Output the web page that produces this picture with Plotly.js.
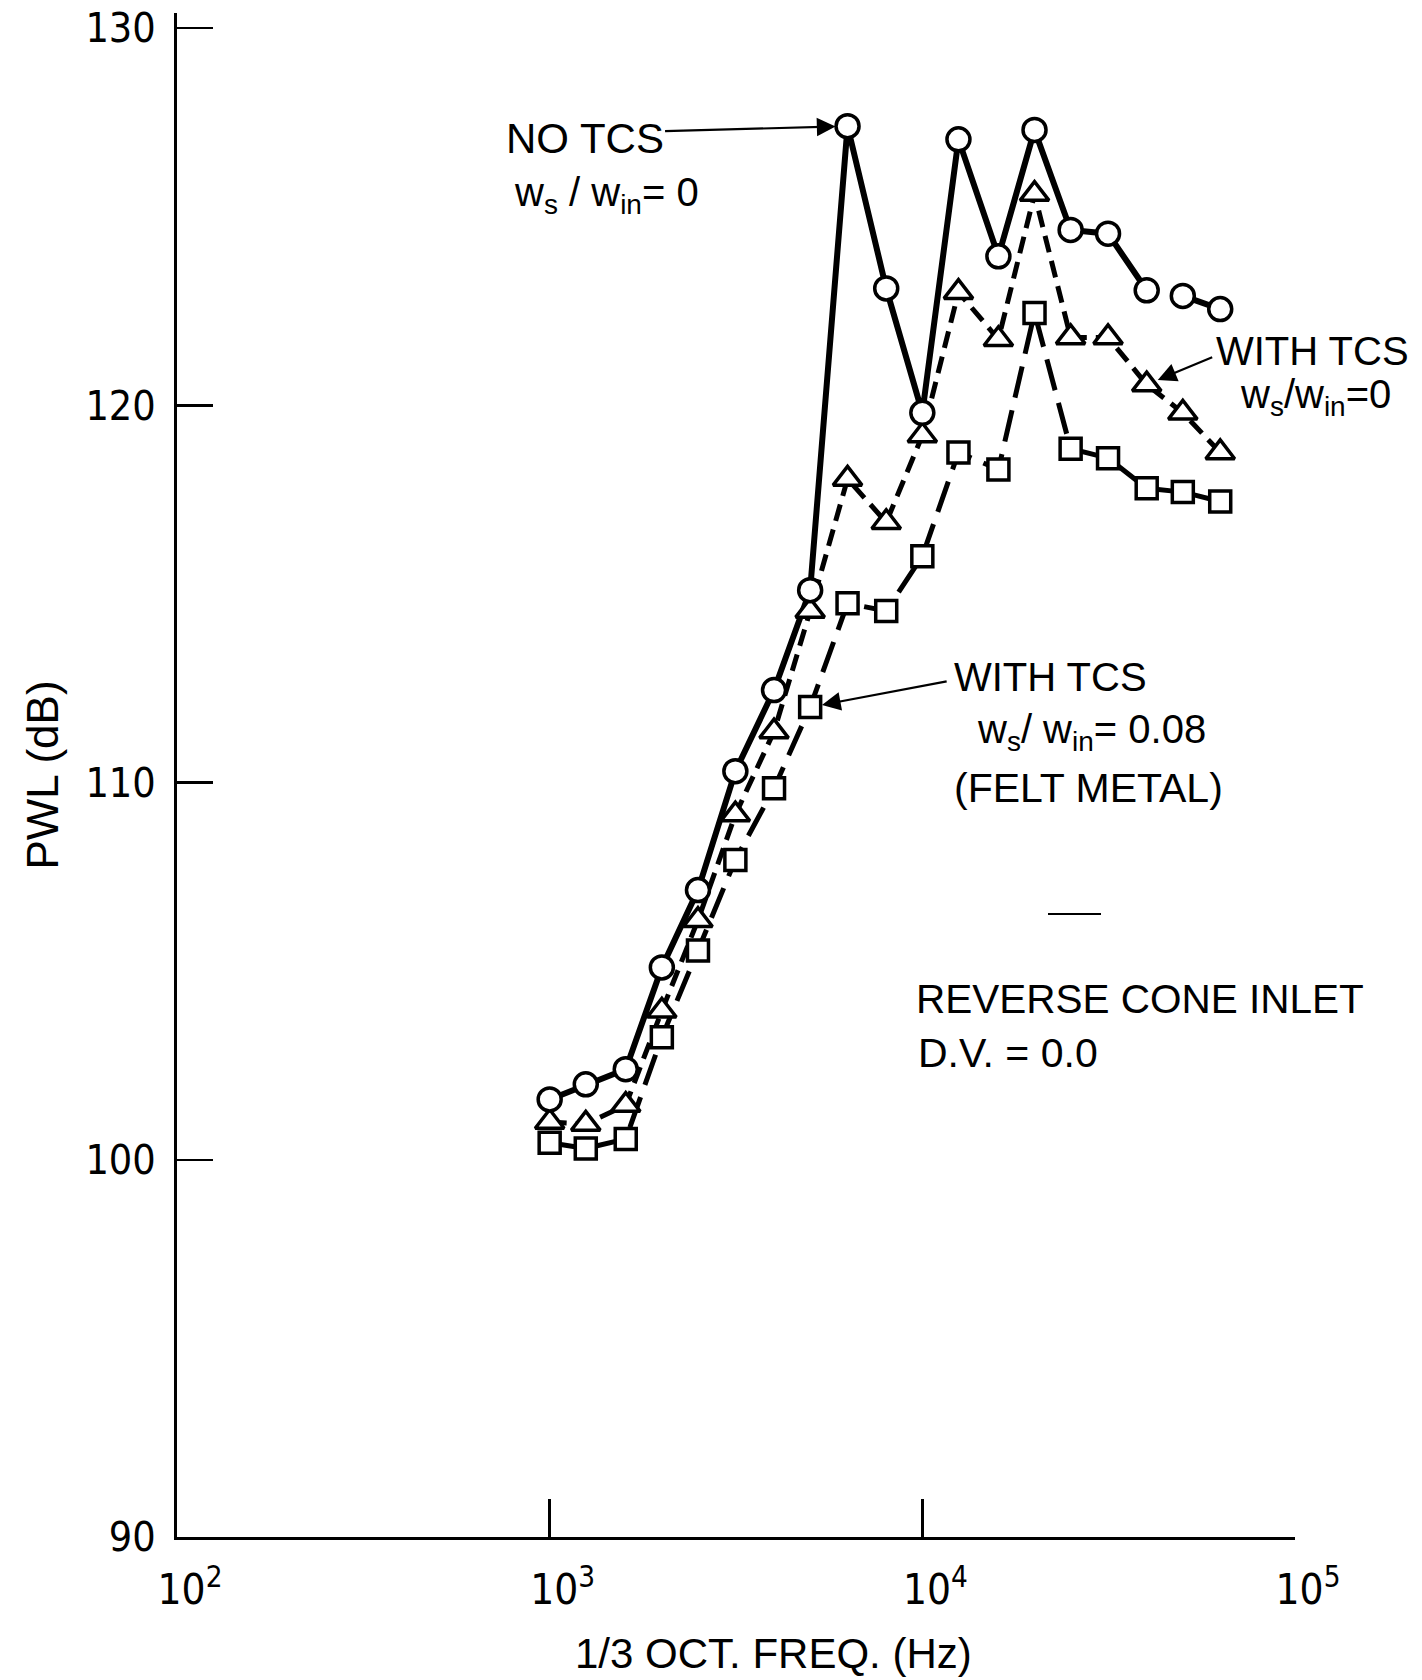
<!DOCTYPE html>
<html>
<head>
<meta charset="utf-8">
<script src="https://cdn.plot.ly/plotly-3.0.1.min.js"></script>
<style>html,body{margin:0;padding:0;background:#fff;}#chart{width:1422px;height:1680px;}</style>
</head>
<body>
<div id="chart"></div>
<script>
// 1/3-octave band centre frequencies (Hz)
const freq = [1000,1250,1600,2000,2500,3150,4000,5000,6300,8000,10000,12500,16000,20000,25000,31500,40000,50000,63000];
// PWL (dB) — NO TCS, ws/win = 0 (circles, solid)
const noTcs = [101.6,102.0,102.4,105.1,107.15,110.3,112.45,115.1,127.4,123.1,119.8,127.05,123.95,127.3,124.65,124.55,123.05,122.9,122.55];
// PWL (dB) — WITH TCS, ws/win = 0 (triangles, short dash)
const withTcs0 = [101.0,100.95,101.45,103.95,106.35,109.15,111.35,114.55,118.05,116.9,119.2,123.0,121.75,125.6,121.8,121.8,120.55,119.8,118.75];
// PWL (dB) — WITH TCS, ws/win = 0.08 felt metal (squares, long dash)
const withTcs08 = [100.45,100.3,100.55,103.25,105.55,107.95,109.85,112.0,114.75,114.55,116.0,118.75,118.3,122.45,118.85,118.6,117.8,117.7,117.45];
// the solid curve is not drawn between these two bands
const noTcsBreakAfter = 40000;

const xTickVals = [100,1000,10000,100000];
const xTickText = ['10<sup>2</sup>','10<sup>3</sup>','10<sup>4</sup>','10<sup>5</sup>'];
const yTickVals = [90,100,110,120,130];

const TXT = 'Liberation Sans, Arial, Helvetica, sans-serif';
const NUM = 'Liberation Sans Narrow, DejaVu Sans Condensed, Arial Narrow, Liberation Sans, sans-serif';

// build solid line with a gap
const gx = [], gy = [];
freq.forEach((f,i)=>{ gx.push(f); gy.push(noTcs[i]); if(f===noTcsBreakAfter){ gx.push(null); gy.push(null);} });

const traces = [
  {x: freq, y: withTcs08, mode:'lines', line:{color:'#000', width:5, dash:'32px,13px'}, hoverinfo:'skip', showlegend:false},
  {x: freq, y: withTcs0, mode:'lines', line:{color:'#000', width:5, dash:'17px,9px'}, hoverinfo:'skip', showlegend:false},
  {x: gx, y: gy, mode:'lines', connectgaps:false, line:{color:'#000', width:6}, hoverinfo:'skip', showlegend:false},
  {x: freq, y: withTcs08, mode:'markers', name:'WITH TCS ws/win=0.08',
   marker:{symbol:'square', size:21, color:'#fff', line:{color:'#000', width:3.5}}, showlegend:false},
  {x: freq, y: withTcs0, mode:'markers', name:'WITH TCS ws/win=0',
   marker:{symbol:'triangle-up', size:25, color:'#fff', line:{color:'#000', width:3.5}}, showlegend:false},
  {x: freq, y: noTcs, mode:'markers', name:'NO TCS ws/win=0',
   marker:{symbol:'circle', size:23, color:'#fff', line:{color:'#000', width:3.5}}, showlegend:false}
];

const L = 177, R = 1295, T = 13, B = 1537;
const px = v => (v - L) / (R - L);
const py = v => (B - v) / (B - T);

function txt(text, x, y, size){
  return {text:text, xref:'paper', yref:'paper', x:px(x), y:py(y), xanchor:'left', yanchor:'middle',
          showarrow:false, font:{family:TXT, size:size||40, color:'#000'}};
}
function arrow(fx, fy, ax, ay){
  return {x:Math.log10(fx), y:fy, xref:'x', yref:'y', ax:ax, ay:ay, text:'', showarrow:true,
          arrowhead:2, arrowsize:1.7, arrowwidth:2.2, arrowcolor:'#000', standoff:12};
}

const annotations = [
  txt('NO TCS', 504, 138, 42),
  txt('w<sub>s</sub> / w<sub>in</sub>= 0', 512, 195, 40),
  txt('WITH TCS', 1214, 351, 40),
  txt('w<sub>s</sub>/w<sub>in</sub>=0', 1238, 397, 40),
  txt('WITH TCS', 952, 677, 40),
  txt('w<sub>s</sub>/ w<sub>in</sub>= 0.08', 975, 732, 40),
  txt('(FELT METAL)', 952, 788, 41),
  txt('REVERSE CONE INLET', 914, 999, 40.5),
  txt('D.V. = 0.0', 916, 1053, 41),
  // x-axis title, placed where the reference draws it
  {text:'1/3 OCT. FREQ. (Hz)', xref:'paper', yref:'paper', x:px(773), y:py(1679), xanchor:'center', yanchor:'bottom',
   showarrow:false, font:{family:TXT, size:42, color:'#000'}},
  arrow(6300, 127.4, -184, 5),
  arrow(40000, 120.55, 67, -28),
  arrow(5000, 112.0, 138, -26)
];

const layout = {
  width:1422, height:1680,
  margin:{l:L, r:1422-R, t:T, b:1680-B, pad:0},
  paper_bgcolor:'#fff', plot_bgcolor:'#fff',
  showlegend:false,
  xaxis:{type:'log', range:[2,5], showgrid:false, zeroline:false,
         showline:true, linecolor:'#000', linewidth:3, mirror:false,
         ticks:'inside', ticklen:38, tickwidth:2.5, tickcolor:'#000',
         tickvals:xTickVals, ticktext:xTickText, ticklabelstandoff:14, ticklabelshift:13,
         tickfont:{family:NUM, size:42, color:'#000'}},
  yaxis:{range:[90,130.4], showgrid:false, zeroline:false,
         showline:true, linecolor:'#000', linewidth:3, mirror:false,
         ticks:'inside', ticklen:36, tickwidth:2.5, tickcolor:'#000',
         tickvals:yTickVals, ticklabelstandoff:10,
         tickfont:{family:NUM, size:41, color:'#000'},
         title:{text:'PWL (dB)', font:{family:TXT, size:44, color:'#000'}, standoff:14}},
  annotations:annotations,
  shapes:[{type:'line', xref:'paper', yref:'paper', x0:px(1048), x1:px(1101), y0:py(914), y1:py(914), line:{color:'#000', width:2}}]
};

Plotly.newPlot('chart', traces, layout, {displayModeBar:false, staticPlot:true});
</script>
</body>
</html>
